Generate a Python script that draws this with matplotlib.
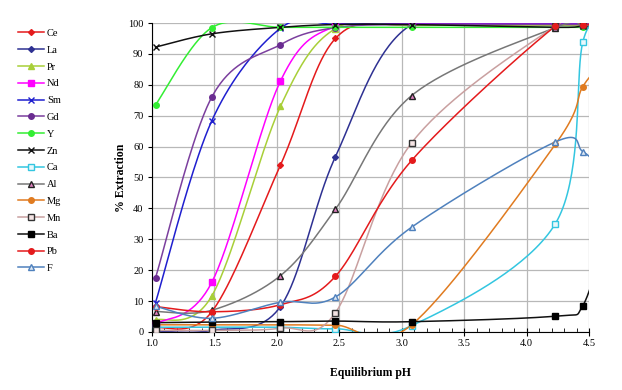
import numpy as np
import matplotlib
matplotlib.use("Agg")
import matplotlib.pyplot as plt
from matplotlib.ticker import MultipleLocator

plt.rcParams['font.family'] = ['Liberation Serif', 'DejaVu Serif']

# equilibrium pH of each sample (last one lies past the axis end)
ph = [1.03, 1.48, 2.03, 2.47, 3.08, 4.23, 4.45, 4.62]

ce = [1.3, 6.5, 54.0, 95.0, 99.5, 99.5, 99.5, 99.5]
la = [0.3, 0.5, 8.2, 56.7, 99.5, 99.6, 99.5, 99.5]
pr = [3.8, 11.6, 73.0, 98.2, 99.2, 99.3, 99.3, 99.3]
nd = [2.6, 16.0, 81.2, 99.0, 99.7, 99.7, 99.7, 99.7]
sm = [9.5, 68.3, 98.3, 99.6, 99.6, 99.6, 99.6, 99.6]
gd = [17.5, 76.0, 93.0, 98.5, 99.5, 99.5, 99.5, 99.5]
y_ = [73.5, 98.5, 98.6, 98.6, 98.6, 98.6, 98.6, 98.6]
zn = [92.2, 96.5, 98.6, 99.5, 99.5, 98.6, 99.0, 99.0]
ca = [1.5, 1.5, 1.5, 1.0, 2.0, 35.0, 93.8, 98.0]
al = [6.6, 7.0, 18.2, 39.7, 76.5, 98.5, 99.3, 99.3]
mg = [2.3, 2.3, 2.3, 2.2, 2.3, 60.7, 79.4, 87.0]
mn = [0.5, 0.5, 1.2, 6.2, 61.2, 99.0, 99.5, 99.5]
ba = [3.0, 3.2, 3.3, 3.5, 3.3, 5.1, 8.5, 30.0]
pb = [8.2, 6.5, 8.8, 18.0, 55.5, 99.0, 99.5, 99.5]
f_ = [8.3, 4.4, 9.6, 11.3, 33.9, 61.5, 58.4, 52.0]

series = [
    ("Ce", ce, "#e41a1c", "D", "#e41a1c", "#e41a1c"),
    ("La", la, "#2e3192", "D", "#2e3192", "#2e3192"),
    ("Pr", pr, "#a8cf38", "^", "#a8cf38", "#a8cf38"),
    ("Nd", nd, "#ff00ff", "s", "#ff00ff", "#ff00ff"),
    ("Sm", sm, "#1f1fcf", "x", "#1f1fcf", "#1f1fcf"),
    ("Gd", gd, "#7b3f9e", "o", "#6a2c91", "#6a2c91"),
    ("Y", y_, "#33ee33", "o", "#33ee33", "#33ee33"),
    ("Zn", zn, "#111111", "x", "#111111", "#111111"),
    ("Ca", ca, "#33c6e0", "s", "#e8f8fc", "#33c6e0"),
    ("Al", al, "#777777", "^", "#e080c0", "#222222"),
    ("Mg", mg, "#e07b20", "o", "#e07b20", "#e07b20"),
    ("Mn", mn, "#c9a0a0", "s", "#f4e4e4", "#333333"),
    ("Ba", ba, "#111111", "s", "#000000", "#000000"),
    ("Pb", pb, "#e41a1c", "o", "#e41a1c", "#e41a1c"),
    ("F", f_, "#4f81bd", "^", "#dde8f4", "#4f81bd"),
]


def smooth(x, y, n=40):
    # Excel-like smoothed line: cubic Bezier through points, Catmull-Rom controls
    p = np.column_stack([x, y]).astype(float)
    pts = []
    for i in range(len(p) - 1):
        p0 = p[i - 1] if i > 0 else p[i]
        p3 = p[i + 2] if i + 2 < len(p) else p[i + 1]
        c1 = p[i] + (p[i + 1] - p0) / 6.0
        c2 = p[i + 1] - (p3 - p[i]) / 6.0
        t = np.linspace(0, 1, n)[:, None]
        seg = ((1 - t) ** 3) * p[i] + 3 * ((1 - t) ** 2) * t * c1 \
            + 3 * (1 - t) * t ** 2 * c2 + t ** 3 * p[i + 1]
        pts.append(seg)
    s = np.vstack(pts)
    return s[:, 0], s[:, 1]


fig = plt.figure(figsize=(6.22, 3.9), dpi=100)
ax = fig.add_axes([0.244, 0.149, 0.703, 0.792])

handles = []
for name, vals, col, mk, fc, ec in series:
    sx, sy = smooth(ph, vals)
    ax.plot(sx, sy, color=col, lw=1.1, zorder=3)
    ax.plot(ph, vals, ls="none", marker=mk, ms=4 if mk != "D" else 3,
            mfc=fc, mec=ec, mew=1.0, zorder=4, clip_on=True)
    h, = ax.plot([], [], color=col, lw=1.1, marker=mk,
                 ms=4 if mk != "D" else 3, mfc=fc, mec=ec, mew=1.0)
    handles.append(h)

ax.set_xlim(1.0, 4.5)
ax.set_ylim(0, 100)
ax.xaxis.set_major_locator(MultipleLocator(0.5))
ax.xaxis.set_minor_locator(MultipleLocator(0.1))
ax.yaxis.set_major_locator(MultipleLocator(10))
ax.grid(True, which="major", color="#b8b8b8", lw=0.9, zorder=0)
ax.set_axisbelow(True)
ax.xaxis.set_major_formatter(plt.FuncFormatter(lambda v, p: f"{v:.1f}"))

for s in ["top", "right"]:
    ax.spines[s].set_visible(False)
ax.spines["left"].set_linewidth(0.8)
ax.spines["bottom"].set_linewidth(0.8)
ax.tick_params(axis="x", which="major", direction="inout", length=6, labelsize=7.5, pad=2)
ax.tick_params(axis="x", which="minor", direction="in", length=3)
ax.tick_params(axis="y", direction="out", length=3, labelsize=7.5, pad=3)

ax.set_xlabel("Equilibrium pH", fontsize=8.5, fontweight="bold", labelpad=14)
ax.set_ylabel("% Extraction", fontsize=8.5, fontweight="bold", labelpad=1)

fig.legend(handles, [s[0] for s in series], loc="upper left",
           bbox_to_anchor=(0.022, 0.937), frameon=False, fontsize=7.5,
           handlelength=2.5, labelspacing=0.72, handletextpad=0.3,
           borderaxespad=0)

fig.savefig("out.png", dpi=100)
